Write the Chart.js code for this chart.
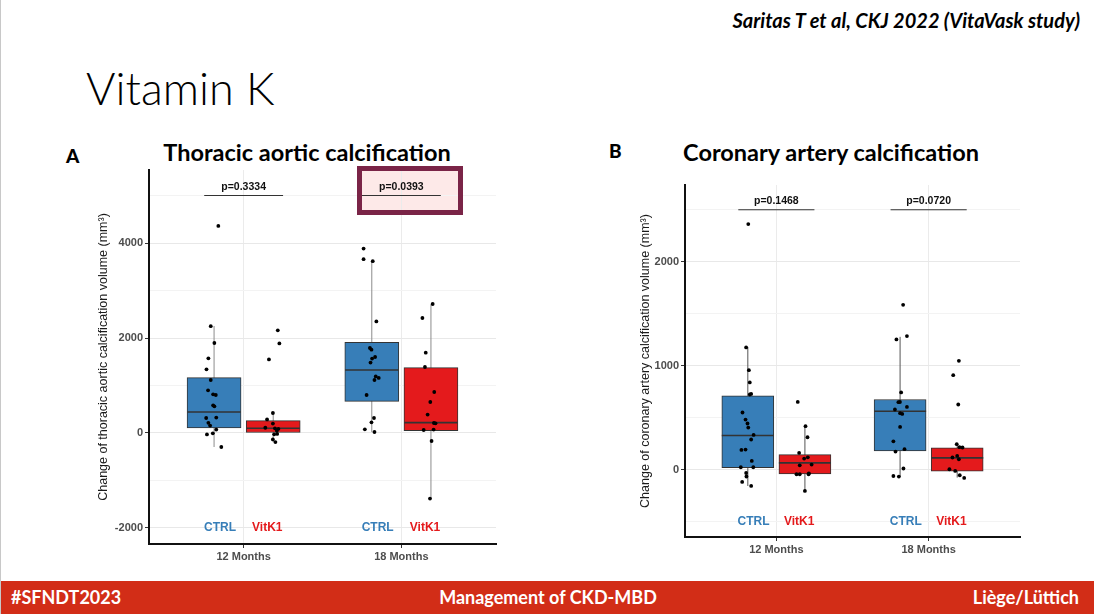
<!DOCTYPE html>
<html>
<head>
<meta charset="utf-8">
<script src="https://cdn.jsdelivr.net/npm/chart.js@4.4.1/dist/chart.umd.min.js"></script>
<style>
  html, body { margin: 0; padding: 0; background: #fff; }
  #slide { position: relative; width: 1094px; height: 614px; overflow: hidden; background: #fff;
           border-left: 1px solid #c8c8c8; box-sizing: border-box; font-family: Lato, "Open Sans", sans-serif; }
  .cite { position: absolute; right: 14px; top: 10px; font-size: 20px; font-weight: 700; font-style: italic; line-height: 1; }
  .title { position: absolute; left: 85px; top: 66px; font-size: 45px; font-weight: 300; line-height: 1; }
  .panel { position: absolute; font-size: 19px; font-weight: 900; line-height: 1; }
  .ptitle { position: absolute; width: 400px; text-align: center; font-size: 23.5px; font-weight: 700; line-height: 1; }
  canvas { position: absolute; }
  .hl-fill { position: absolute; left: 361px; top: 171px; width: 96px; height: 39px; background: #fde9e8; }
  .hl-border { position: absolute; left: 356px; top: 166px; width: 96px; height: 39px; border: 5px solid #7a2447; }
  .footer { position: absolute; left: 0; top: 581px; width: 1094px; height: 33px; background: #d22d17;
            color: #fff; font-size: 18px; font-weight: 700; line-height: 33px; }
  .footer span { position: absolute; top: 0; }
</style>
</head>
<body>
<div id="slide">
  <div class="cite">Saritas T et al, CKJ 2022 (VitaVask study)</div>
  <div class="title">Vitamin K</div>

  <div class="panel" style="left:65px; top:146px;">A</div>
  <div class="ptitle" style="left:106px; top:141px;">Thoracic aortic calcification</div>
  <div class="panel" style="left:608px; top:141px;">B</div>
  <div class="ptitle" style="left:630px; top:141px;">Coronary artery calcification</div>

  <div class="hl-fill"></div>
  <canvas id="chartA" width="420" height="410" style="left:88px; top:160px;"></canvas>
  <canvas id="chartB" width="405" height="385" style="left:628px; top:175px;"></canvas>
  <div class="hl-border"></div>

  <div class="footer">
    <span style="left:10px;">#SFNDT2023</span>
    <span style="left:0; width:1094px; text-align:center;">Management of CKD-MBD</span>
    <span style="right:16px;">Liège/Lüttich</span>
  </div>
</div>

<script>
// shared categories
const months = ['12 Months', '18 Months'];
const groups = ['CTRL', 'VitK1'];
const colors = ['#377eb8', '#e41a1c'];
const dodge = 0.1875;

// ---- A: thoracic aortic calcification ----
const aTicks = [-2000, -1000, 0, 1000, 2000, 3000, 4000, 5000];
const aTickLabels = [-2000, 0, 2000, 4000];
const aPValues = ['p=0.3334', 'p=0.0393'];
// box stats: [whisker low, q1, median, q3, whisker high]
const aCtrl12Box = [-295, 105, 442, 1166, 2252];
const aVit12Box = [-192, 0, 99, 261, 421];
const aCtrl18Box = [21, 667, 1326, 1909, 3621];
const aVit18Box = [-1381, 50, 219, 1377, 2709];
// individual patients (value) and their jitter off the box centre
const aCtrl12 = [4360, 2250, 1895, 1572, 1340, 1116, 899, 815, 800, 583, 562, 316, 324, 215, 156, 72, -30, -6, -295];
const aCtrl12Jit = [0.027, -0.021, 0.002, -0.036, -0.048, -0.021, -0.038, -0.006, 0.011, -0.006, 0.002, -0.05, 0.014, -0.036, -0.025, 0.014, -0.045, -0.008, 0.046];
const aVit12 = [2162, 1885, 1548, 421, 285, 198, 110, 99, 88, 45, -27, -20, -135, -192];
const aVit12Jit = [0.029, 0.039, -0.027, -0.002, -0.039, -0.002, -0.05, 0.011, 0.033, 0.023, 0.006, 0.025, -0.002, 0.014];
const aCtrl18 = [3882, 3660, 3618, 2348, 1789, 1755, 1600, 1566, 1482, 1190, 1160, 1116, 800, 316, 225, 78, 21];
const aCtrl18Jit = [-0.052, -0.052, 0.006, 0.029, -0.012, -0.002, 0.021, 0.002, -0.008, 0.025, 0.044, 0.017, -0.033, 0.014, -0.002, -0.044, 0.017];
const aVit18 = [2716, 2421, 1692, 1389, 863, 653, 387, 210, 204, 63, 72, -168, -1381];
const aVit18Jit = [0.011, -0.054, -0.033, -0.038, 0.021, -0.004, -0.021, 0.019, 0.029, -0.046, 0.017, 0.004, -0.006];

// ---- B: coronary artery calcification ----
const bTicks = [-500, 0, 500, 1000, 1500, 2000, 2500];
const bTickLabels = [0, 1000, 2000];
const bPValues = ['p=0.1468', 'p=0.0720'];
const bCtrl12Box = [-158, 19, 327, 709, 1178];
const bVit12Box = [-206, -42, 64, 144, 417];
const bCtrl18Box = [-71, 179, 561, 674, 1277];
const bVit18Box = [-77, -16, 112, 208, 244];
const bCtrl12 = [2362, 1175, 956, 838, 722, 728, 549, 481, 443, 404, 333, 289, 189, 192, 83, 22, 22, -33, -67, -119, -158];
const bCtrl12Jit = [0.003, -0.011, 0.007, 0.013, 0.013, 0.022, -0.035, -0.015, -0.002, 0.003, 0.038, 0.022, -0.042, -0.015, 0.026, -0.046, 0.036, -0.011, -0.009, -0.037, 0.022];
const bVit12 = [651, 417, 311, 160, 118, 106, 41, 48, -45, -45, -36, -45, -206];
const bVit12Jit = [-0.047, 0.004, 0.017, -0.038, 0.019, -0.005, -0.034, 0.044, -0.055, -0.034, 0.026, 0.024, 0];
const bCtrl18 = [1585, 1284, 1252, 742, 648, 650, 603, 578, 542, 535, 410, 272, 196, 173, 10, -62, -68];
const bCtrl18Jit = [0.02, 0.045, -0.024, 0.007, -0.011, -0.001, 0.045, -0.034, 0, 0.014, 0, -0.044, 0.029, -0.03, 0.022, -0.044, -0.008];
const bVit18 = [1046, 908, 626, 244, 215, 212, 131, 116, 99, 3, -13, -55, -81];
const bVit18Jit = [0.011, -0.026, 0.007, -0.003, 0.015, 0.035, 0, -0.031, 0.011, -0.051, -0.013, 0.017, 0.046];

Chart.defaults.font.family = '"Liberation Sans", Arial, sans-serif';
Chart.defaults.animation = false;

// p-values over the brackets and CTRL / VitK1 names under the boxes
const textPlugin = {
  id: 'boxText',
  afterDatasetsDraw(chart, args, opts) {
    const { ctx } = chart;
    const x = chart.scales.x, y = chart.scales.y;
    ctx.save();
    ctx.textAlign = 'center';
    ctx.font = 'bold 10.5px "Liberation Sans", Arial, sans-serif';
    ctx.fillStyle = '#111';
    ctx.textBaseline = 'bottom';
    opts.pValues.forEach((p, i) => {
      ctx.fillText(p, x.getPixelForValue(i + 1), y.getPixelForValue(opts.pY) - 3);
    });
    ctx.font = 'bold 12px "Liberation Sans", Arial, sans-serif';
    ctx.textBaseline = 'middle';
    months.forEach((m, i) => {
      groups.forEach((g, k) => {
        ctx.fillStyle = colors[k];
        ctx.fillText(g, x.getPixelForValue(i + 1 + (k ? 0.15 : -0.15)), y.getPixelForValue(opts.groupY));
      });
    });
    ctx.restore();
  }
};

function makeChart(id, c) {
  const xs = [1 - dodge, 1 + dodge, 2 - dodge, 2 + dodge];
  const datasets = [{
    type: 'bar',
    data: xs.map((x, i) => ({ x: x, y: [c.boxes[i][1], c.boxes[i][3]] })),
    backgroundColor: xs.map((x, i) => colors[i % 2]),
    borderColor: '#333',
    borderWidth: 1,
    borderSkipped: false,
    barThickness: c.barPx,
    order: 3
  }];
  xs.forEach((x, i) => {
    const b = c.boxes[i];
    datasets.push({ type: 'line', data: [{ x: x, y: b[0] }, { x: x, y: b[4] }],
      borderColor: c.whisker, borderWidth: 1, pointRadius: 0, order: 4 });
    datasets.push({ type: 'line', data: [{ x: x - c.halfW, y: b[2] }, { x: x + c.halfW, y: b[2] }],
      borderColor: '#333', borderWidth: 1.6, pointRadius: 0, order: 2 });
    datasets.push({ type: 'scatter', data: c.points[i].map((v, j) => ({ x: x + c.jitter[i][j], y: v })),
      backgroundColor: '#000', borderWidth: 0, pointRadius: 1.9, order: 0 });
  });
  months.forEach((m, i) => {
    datasets.push({ type: 'line', data: [{ x: i + 0.75, y: c.pY }, { x: i + 1.25, y: c.pY }],
      borderColor: '#333', borderWidth: 1.2, pointRadius: 0, order: 1 });
  });

  const isLabel = v => c.tickLabels.includes(v);
  return new Chart(document.getElementById(id), {
    type: 'bar',
    data: { datasets },
    plugins: [textPlugin],
    options: {
      responsive: false,
      layout: { padding: { top: c.padTop, right: c.padRight, left: 0, bottom: 0 } },
      plugins: {
        legend: { display: false },
        tooltip: { enabled: false },
        boxText: { pValues: c.pValues, pY: c.pY, groupY: c.groupY }
      },
      scales: {
        x: {
          type: 'linear', min: 0.4, max: 2.6, offset: false,
          afterBuildTicks: s => { s.ticks = [{ value: 1 }, { value: 2 }]; },
          afterFit: s => { s.height = c.xHeight; },
          ticks: { callback: (v, i) => months[i], color: '#4d4d4d', font: { size: 11, weight: 'bold' }, padding: 2 },
          grid: { offset: false, color: '#ebebeb', tickColor: '#333', tickLength: 4 },
          border: { color: '#111', width: 2 }
        },
        y: {
          min: c.yMin, max: c.yMax,
          afterBuildTicks: s => { s.ticks = c.ticks.map(v => ({ value: v })); },
          afterFit: s => { s.width = c.yWidth; },
          ticks: { callback: v => isLabel(v) ? String(v) : '', color: '#4d4d4d', font: { size: 11, weight: 'bold' }, padding: 2 },
          grid: {
            color: ctx => isLabel(ctx.tick.value) ? '#e8e8e8' : '#f3f3f3',
            tickColor: ctx => isLabel(ctx.tick.value) ? '#333' : 'rgba(0,0,0,0)',
            tickLength: 4
          },
          border: { color: '#111', width: 2 },
          title: { display: true, text: c.yTitle, color: '#1a1a1a', font: { size: c.titleSize }, padding: { top: c.titlePad, bottom: 0 } }
        }
      }
    }
  });
}

makeChart('chartA', {
  boxes: [aCtrl12Box, aVit12Box, aCtrl18Box, aVit18Box],
  points: [aCtrl12, aVit12, aCtrl18, aVit18],
  jitter: [aCtrl12Jit, aVit12Jit, aCtrl18Jit, aVit18Jit],
  ticks: aTicks, tickLabels: aTickLabels, pValues: aPValues,
  yMin: -2337, yMax: 5537, pY: 5000, groupY: -2000,
  yTitle: 'Change of thoracic aortic calcification volume (mm³)',
  barPx: 54, halfW: 0.169, whisker: '#8c8c8c',
  yWidth: 60, xHeight: 26, padTop: 10, padRight: 13, titleSize: 12.5, titlePad: 7
});

makeChart('chartB', {
  boxes: [bCtrl12Box, bVit12Box, bCtrl18Box, bVit18Box],
  points: [bCtrl12, bVit12, bCtrl18, bVit18],
  jitter: [bCtrl12Jit, bVit12Jit, bCtrl18Jit, bVit18Jit],
  ticks: bTicks, tickLabels: bTickLabels, pValues: bPValues,
  yMin: -649, yMax: 2738, pY: 2500, groupY: -500,
  yTitle: 'Change of coronary artery calcification volume (mm³)',
  barPx: 52, halfW: 0.171, whisker: '#555',
  yWidth: 56, xHeight: 23, padTop: 10, padRight: 14, titleSize: 12.5, titlePad: 9
});
</script>
</body>
</html>
